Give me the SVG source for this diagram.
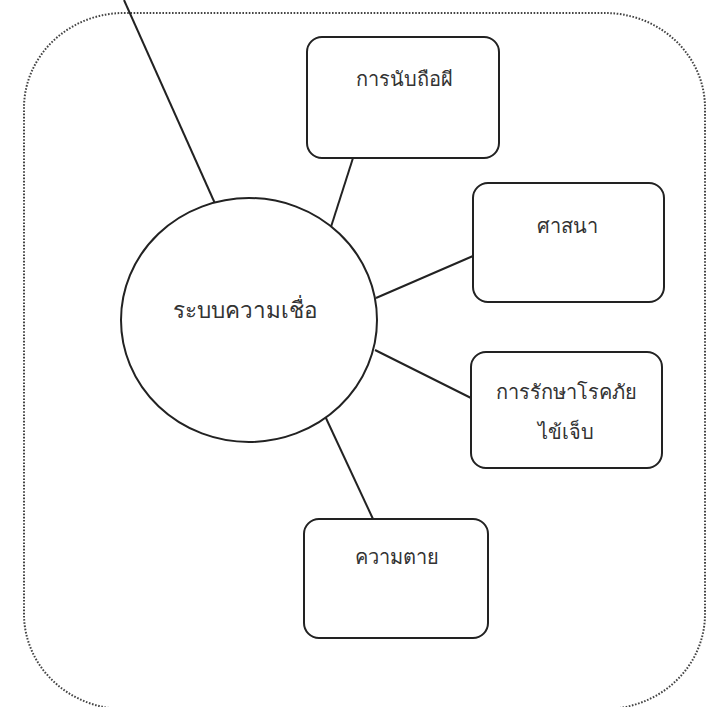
<svg xmlns="http://www.w3.org/2000/svg" width="707" height="707" viewBox="0 0 707 707">
<style>
.box{fill:#fff;stroke:#222;stroke-width:2}
.lbl{font-family:"Noto Sans","DejaVu Sans","Liberation Sans",sans-serif;font-size:20px;fill:#333;text-anchor:middle}
.big{font-size:22.5px}
.con{stroke:#222;stroke-width:2;fill:none}
</style>
<rect width="707" height="707" fill="#fff"/>
<rect x="24" y="13" width="681" height="696" rx="100" ry="95" fill="none" stroke="#444" stroke-width="2" stroke-dasharray="1.6 1.6"/>
<g id="connectors">
<line class="con" x1="124" y1="0" x2="217" y2="208"/>
<line class="con" x1="353" y1="158" x2="330" y2="230"/>
<line class="con" x1="473" y1="256" x2="376" y2="298"/>
<line class="con" x1="471" y1="398" x2="375" y2="350"/>
<line class="con" x1="373" y1="519" x2="325" y2="416"/>
</g>
<g id="center">
<ellipse class="box" cx="249" cy="320" rx="128" ry="122"/>
<text class="lbl big" x="245" y="318">ระบบความเชื่อ</text>
</g>
<g id="n1">
<rect class="box" x="307" y="37" width="192" height="121" rx="15"/>
<text class="lbl" x="404" y="86">การนับถือผี</text>
</g>
<g id="n2">
<rect class="box" x="473" y="183" width="191" height="119" rx="15"/>
<text class="lbl" x="567" y="233">ศาสนา</text>
</g>
<g id="n3">
<rect class="box" x="471" y="352" width="191" height="116" rx="15"/>
<text class="lbl" x="566" y="399">การรักษาโรคภัย</text>
<text class="lbl" x="566" y="439">ไข้เจ็บ</text>
</g>
<g id="n4">
<rect class="box" x="304" y="519" width="184" height="119" rx="15"/>
<text class="lbl" x="397" y="564">ความตาย</text>
</g>
</svg>
